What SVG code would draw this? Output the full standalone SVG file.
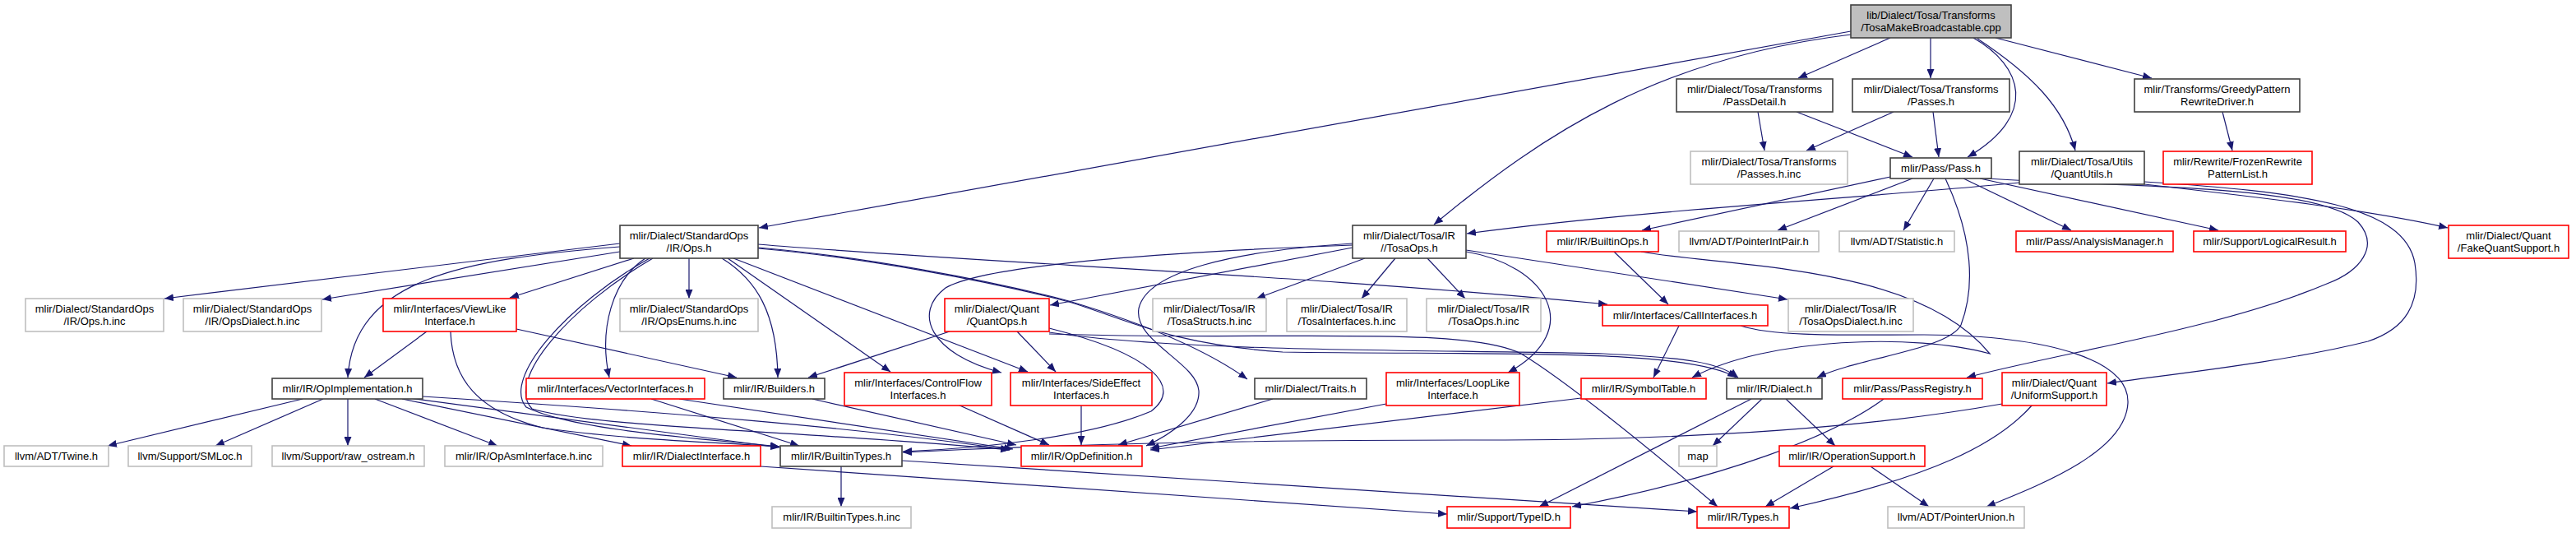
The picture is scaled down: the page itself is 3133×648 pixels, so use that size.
<svg xmlns="http://www.w3.org/2000/svg" width="3133" height="648" viewBox="0 0 3133 648">
<style>
rect{fill:#fff;stroke-width:1.6}
.d rect{stroke:#404040}
.r rect{stroke:#ff0000}
.g rect{stroke:#bfbfbf}
.root rect{fill:#bfbfbf;stroke:#404040}
text{font-family:"Liberation Sans",Arial,Helvetica,sans-serif;font-size:13px;text-anchor:middle;fill:#000}
#edges path{fill:none;stroke:#191970;stroke-width:1.2;marker-end:url(#a)}
</style>
<defs>
<marker id="a" markerWidth="12" markerHeight="9" refX="11" refY="4.5" orient="auto" markerUnits="userSpaceOnUse"><path d="M0,0 L11,4.5 L0,9 z" fill="#191970"/></marker>
</defs>
<rect x="0" y="0" width="3133" height="648" style="fill:#fff;stroke:none"/>
<g id="edges">
<path d="M2251,38 L923,277"/>
<path d="M2251,42 C2020,70 1880,160 1744,273"/>
<path d="M2299,46 L2187,95"/>
<path d="M2348,46 L2348,95"/>
<path d="M2400,46 C2460,80 2480,140 2393,191"/>
<path d="M2405,47 C2470,90 2510,130 2524,183"/>
<path d="M2427,46 L2617,95"/>
<path d="M2138,136 L2146,183"/>
<path d="M2185,136 L2326,191"/>
<path d="M2303,136 L2197,183"/>
<path d="M2351,136 L2358,191"/>
<path d="M2703,136 L2715,183"/>
<path d="M2299,215 L1997,280"/>
<path d="M2326,217 L2162,280"/>
<path d="M2352,217 L2315,280"/>
<path d="M2388,217 L2519,280"/>
<path d="M2408,217 L2698,280"/>
<path d="M2366,217 C2400,290 2402,350 2385,395 C2370,425 2260,435 2210,459"/>
<path d="M2414,217 C2600,228 2820,225 2868,270 C2895,300 2870,330 2830,345 C2700,400 2500,430 2392,459"/>
<path d="M2456,222 C2300,238 2000,255 1784,284"/>
<path d="M2608,224 C2750,240 2880,255 2977,277"/>
<path d="M2608,221 C2800,233 2925,250 2937,320 C2945,370 2925,400 2880,415 C2780,440 2640,455 2563,466"/>
<path d="M1963,306 L2029,370"/>
<path d="M1996,306 C2100,325 2330,320 2420,430 C2330,405 2150,410 2058,459"/>
<path d="M1645,301 L1277,371"/>
<path d="M1660,314 L1528,363"/>
<path d="M1697,314 L1656,363"/>
<path d="M1736,314 L1782,363"/>
<path d="M1783,304 L2174,364"/>
<path d="M1783,306 C1880,322 1930,400 1834,453"/>
<path d="M1645,298 C1450,305 1200,320 1150,350 C1110,380 1130,430 1218,453"/>
<path d="M1645,296 C1500,305 1395,330 1385,375 C1378,415 1455,440 1458,475 C1460,505 1420,530 1394,542"/>
<path d="M754,296 L200,363"/>
<path d="M754,306 L392,364"/>
<path d="M754,300 C560,315 430,340 423,459"/>
<path d="M771,314 L620,362"/>
<path d="M785,314 C745,340 728,400 741,459"/>
<path d="M790,314 C690,370 610,460 640,495 C700,525 880,535 948,543"/>
<path d="M794,314 C694,372 614,462 647,497 C720,520 1000,525 1228,547"/>
<path d="M838,314 L838,363"/>
<path d="M878,314 C920,340 945,380 946,459"/>
<path d="M885,314 L1083,452"/>
<path d="M892,314 L1250,452"/>
<path d="M922,297 C1200,320 1600,335 1955,370"/>
<path d="M922,301 C1050,312 1200,340 1300,366 C1380,390 1460,420 1517,461"/>
<path d="M922,302 C1050,313 1200,341 1300,367 C1370,388 1420,418 1560,428 C1800,432 2050,422 2112,459"/>
<path d="M519,403 L443,459"/>
<path d="M628,400 L896,459"/>
<path d="M548,403 C550,460 580,500 660,520 C760,535 880,538 948,543"/>
<path d="M368,485 L131,542"/>
<path d="M393,485 L262,542"/>
<path d="M423,485 L423,542"/>
<path d="M456,485 L605,542"/>
<path d="M489,485 L768,542"/>
<path d="M497,484 L948,544"/>
<path d="M514,482 C800,500 1050,520 1228,547"/>
<path d="M792,485 L972,542"/>
<path d="M826,485 L1232,546"/>
<path d="M988,485 L1236,541"/>
<path d="M1165,492 L1276,541"/>
<path d="M1315,492 L1315,541"/>
<path d="M1548,485 L1360,541"/>
<path d="M1686,491 L1399,545"/>
<path d="M1923,484 L1399,547"/>
<path d="M1155,403 L983,459"/>
<path d="M1237,403 L1284,452"/>
<path d="M1276,399 C1400,430 1440,470 1400,500 C1330,530 1200,545 1098,549"/>
<path d="M1276,404 C1450,430 1800,425 1950,430 C2050,435 2090,440 2114,459"/>
<path d="M1276,406 C1550,415 1780,395 1850,430 C1900,460 2000,540 2089,616"/>
<path d="M2042,396 L2011,459"/>
<path d="M2117,396 C2160,410 2250,407 2340,407 C2500,408 2590,440 2588,490 C2585,550 2480,590 2416,616"/>
<path d="M1023,567 L1023,616"/>
<path d="M1097,560 L2064,622"/>
<path d="M925,567 L1760,625"/>
<path d="M2130,485 L1872,616"/>
<path d="M2143,485 L2083,542"/>
<path d="M2172,485 L2232,542"/>
<path d="M2230,567 L2147,616"/>
<path d="M2275,567 L2346,616"/>
<path d="M2291,485 C2230,530 2100,580 1912,616"/>
<path d="M2435,491 C2300,515 2100,535 1800,535 C1500,535 1300,540 1098,550"/>
<path d="M2472,492 C2430,540 2350,580 2177,618"/>
</g>
<g id="root" class="root"><rect x="2251" y="6" width="195" height="40"/><text x="2348.5" y="22.5">lib/Dialect/Tosa/Transforms</text><text x="2348.5" y="37.5">/TosaMakeBroadcastable.cpp</text></g>
<g id="n_ops" class="d"><rect x="754" y="274" width="168" height="40"/><text x="838" y="290.5">mlir/Dialect/StandardOps</text><text x="838" y="305.5">/IR/Ops.h</text></g>
<g id="n_tosaops" class="d"><rect x="1645" y="274" width="138" height="40"/><text x="1714" y="290.5">mlir/Dialect/Tosa/IR</text><text x="1714" y="305.5">//TosaOps.h</text></g>
<g id="n_passdetail" class="d"><rect x="2039" y="96" width="190" height="40"/><text x="2134" y="112.5">mlir/Dialect/Tosa/Transforms</text><text x="2134" y="127.5">/PassDetail.h</text></g>
<g id="n_passes" class="d"><rect x="2253" y="96" width="191" height="40"/><text x="2348.5" y="112.5">mlir/Dialect/Tosa/Transforms</text><text x="2348.5" y="127.5">/Passes.h</text></g>
<g id="n_greedy" class="d"><rect x="2596" y="96" width="201" height="40"/><text x="2696.5" y="112.5">mlir/Transforms/GreedyPattern</text><text x="2696.5" y="127.5">RewriteDriver.h</text></g>
<g id="n_passesinc" class="g"><rect x="2056" y="184" width="191" height="40"/><text x="2151.5" y="200.5">mlir/Dialect/Tosa/Transforms</text><text x="2151.5" y="215.5">/Passes.h.inc</text></g>
<g id="n_pass" class="d"><rect x="2299" y="192" width="123" height="25"/><text x="2360.5" y="208.5">mlir/Pass/Pass.h</text></g>
<g id="n_quantutils" class="d"><rect x="2456" y="184" width="152" height="40"/><text x="2532" y="200.5">mlir/Dialect/Tosa/Utils</text><text x="2532" y="215.5">/QuantUtils.h</text></g>
<g id="n_frozen" class="r"><rect x="2631" y="184" width="181" height="40"/><text x="2721.5" y="200.5">mlir/Rewrite/FrozenRewrite</text><text x="2721.5" y="215.5">PatternList.h</text></g>
<g id="n_builtinops" class="r"><rect x="1881" y="281" width="136" height="25"/><text x="1949" y="297.5">mlir/IR/BuiltinOps.h</text></g>
<g id="n_pointerintpair" class="g"><rect x="2042" y="281" width="170" height="25"/><text x="2127" y="297.5">llvm/ADT/PointerIntPair.h</text></g>
<g id="n_statistic" class="g"><rect x="2237" y="281" width="140" height="25"/><text x="2307" y="297.5">llvm/ADT/Statistic.h</text></g>
<g id="n_analysis" class="r"><rect x="2452" y="281" width="191" height="25"/><text x="2547.5" y="297.5">mlir/Pass/AnalysisManager.h</text></g>
<g id="n_logicalresult" class="r"><rect x="2668" y="281" width="185" height="25"/><text x="2760.5" y="297.5">mlir/Support/LogicalResult.h</text></g>
<g id="n_fakequant" class="r"><rect x="2978" y="274" width="146" height="40"/><text x="3051" y="290.5">mlir/Dialect/Quant</text><text x="3051" y="305.5">/FakeQuantSupport.h</text></g>
<g id="n_opsinc" class="g"><rect x="31" y="363" width="168" height="40"/><text x="115" y="379.5">mlir/Dialect/StandardOps</text><text x="115" y="394.5">/IR/Ops.h.inc</text></g>
<g id="n_opsdialectinc" class="g"><rect x="223" y="363" width="168" height="40"/><text x="307" y="379.5">mlir/Dialect/StandardOps</text><text x="307" y="394.5">/IR/OpsDialect.h.inc</text></g>
<g id="n_viewlike" class="r"><rect x="466" y="363" width="162" height="40"/><text x="547" y="379.5">mlir/Interfaces/ViewLike</text><text x="547" y="394.5">Interface.h</text></g>
<g id="n_opsenums" class="g"><rect x="754" y="363" width="168" height="40"/><text x="838" y="379.5">mlir/Dialect/StandardOps</text><text x="838" y="394.5">/IR/OpsEnums.h.inc</text></g>
<g id="n_quantops" class="r"><rect x="1149" y="363" width="127" height="40"/><text x="1212.5" y="379.5">mlir/Dialect/Quant</text><text x="1212.5" y="394.5">/QuantOps.h</text></g>
<g id="n_tosastructs" class="g"><rect x="1402" y="363" width="138" height="40"/><text x="1471" y="379.5">mlir/Dialect/Tosa/IR</text><text x="1471" y="394.5">/TosaStructs.h.inc</text></g>
<g id="n_tosainterfaces" class="g"><rect x="1565" y="363" width="146" height="40"/><text x="1638" y="379.5">mlir/Dialect/Tosa/IR</text><text x="1638" y="394.5">/TosaInterfaces.h.inc</text></g>
<g id="n_tosaopsinc" class="g"><rect x="1735" y="363" width="139" height="40"/><text x="1804.5" y="379.5">mlir/Dialect/Tosa/IR</text><text x="1804.5" y="394.5">/TosaOps.h.inc</text></g>
<g id="n_callif" class="r"><rect x="1949" y="371" width="201" height="25"/><text x="2049.5" y="387.5">mlir/Interfaces/CallInterfaces.h</text></g>
<g id="n_tosaopsdialect" class="g"><rect x="2175" y="363" width="152" height="40"/><text x="2251" y="379.5">mlir/Dialect/Tosa/IR</text><text x="2251" y="394.5">/TosaOpsDialect.h.inc</text></g>
<g id="n_opimpl" class="d"><rect x="331" y="460" width="183" height="25"/><text x="422.5" y="476.5">mlir/IR/OpImplementation.h</text></g>
<g id="n_vector" class="r"><rect x="640" y="460" width="217" height="25"/><text x="748.5" y="476.5">mlir/Interfaces/VectorInterfaces.h</text></g>
<g id="n_builders" class="d"><rect x="880" y="460" width="123" height="25"/><text x="941.5" y="476.5">mlir/IR/Builders.h</text></g>
<g id="n_controlflow" class="r"><rect x="1027" y="453" width="179" height="40"/><text x="1116.5" y="469.5">mlir/Interfaces/ControlFlow</text><text x="1116.5" y="484.5">Interfaces.h</text></g>
<g id="n_sideeffect" class="r"><rect x="1229" y="453" width="172" height="40"/><text x="1315" y="469.5">mlir/Interfaces/SideEffect</text><text x="1315" y="484.5">Interfaces.h</text></g>
<g id="n_traits" class="d"><rect x="1526" y="460" width="136" height="25"/><text x="1594" y="476.5">mlir/Dialect/Traits.h</text></g>
<g id="n_looplike" class="r"><rect x="1686" y="453" width="162" height="40"/><text x="1767" y="469.5">mlir/Interfaces/LoopLike</text><text x="1767" y="484.5">Interface.h</text></g>
<g id="n_symboltable" class="r"><rect x="1923" y="460" width="152" height="25"/><text x="1999" y="476.5">mlir/IR/SymbolTable.h</text></g>
<g id="n_dialect" class="d"><rect x="2100" y="460" width="116" height="25"/><text x="2158" y="476.5">mlir/IR/Dialect.h</text></g>
<g id="n_passregistry" class="r"><rect x="2241" y="460" width="170" height="25"/><text x="2326" y="476.5">mlir/Pass/PassRegistry.h</text></g>
<g id="n_uniform" class="r"><rect x="2435" y="453" width="127" height="40"/><text x="2498.5" y="469.5">mlir/Dialect/Quant</text><text x="2498.5" y="484.5">/UniformSupport.h</text></g>
<g id="n_twine" class="g"><rect x="5" y="542" width="127" height="25"/><text x="68.5" y="558.5">llvm/ADT/Twine.h</text></g>
<g id="n_smloc" class="g"><rect x="156" y="542" width="150" height="25"/><text x="231" y="558.5">llvm/Support/SMLoc.h</text></g>
<g id="n_rawostream" class="g"><rect x="331" y="542" width="185" height="25"/><text x="423.5" y="558.5">llvm/Support/raw_ostream.h</text></g>
<g id="n_opasminc" class="g"><rect x="541" y="542" width="192" height="25"/><text x="637" y="558.5">mlir/IR/OpAsmInterface.h.inc</text></g>
<g id="n_dialectinterface" class="r"><rect x="757" y="542" width="168" height="25"/><text x="841" y="558.5">mlir/IR/DialectInterface.h</text></g>
<g id="n_builtintypes" class="d"><rect x="949" y="542" width="148" height="25"/><text x="1023" y="558.5">mlir/IR/BuiltinTypes.h</text></g>
<g id="n_opdefinition" class="r"><rect x="1242" y="542" width="147" height="25"/><text x="1315.5" y="558.5">mlir/IR/OpDefinition.h</text></g>
<g id="n_map" class="g"><rect x="2042" y="542" width="46" height="25"/><text x="2065" y="558.5">map</text></g>
<g id="n_opsupport" class="r"><rect x="2164" y="542" width="177" height="25"/><text x="2252.5" y="558.5">mlir/IR/OperationSupport.h</text></g>
<g id="n_builtintypesinc" class="g"><rect x="939" y="616" width="169" height="26"/><text x="1023.5" y="633">mlir/IR/BuiltinTypes.h.inc</text></g>
<g id="n_typeid" class="r"><rect x="1760" y="616" width="150" height="26"/><text x="1835" y="633">mlir/Support/TypeID.h</text></g>
<g id="n_types" class="r"><rect x="2064" y="616" width="112" height="26"/><text x="2120" y="633">mlir/IR/Types.h</text></g>
<g id="n_pointerunion" class="g"><rect x="2296" y="616" width="166" height="26"/><text x="2379" y="633">llvm/ADT/PointerUnion.h</text></g>
</svg>
